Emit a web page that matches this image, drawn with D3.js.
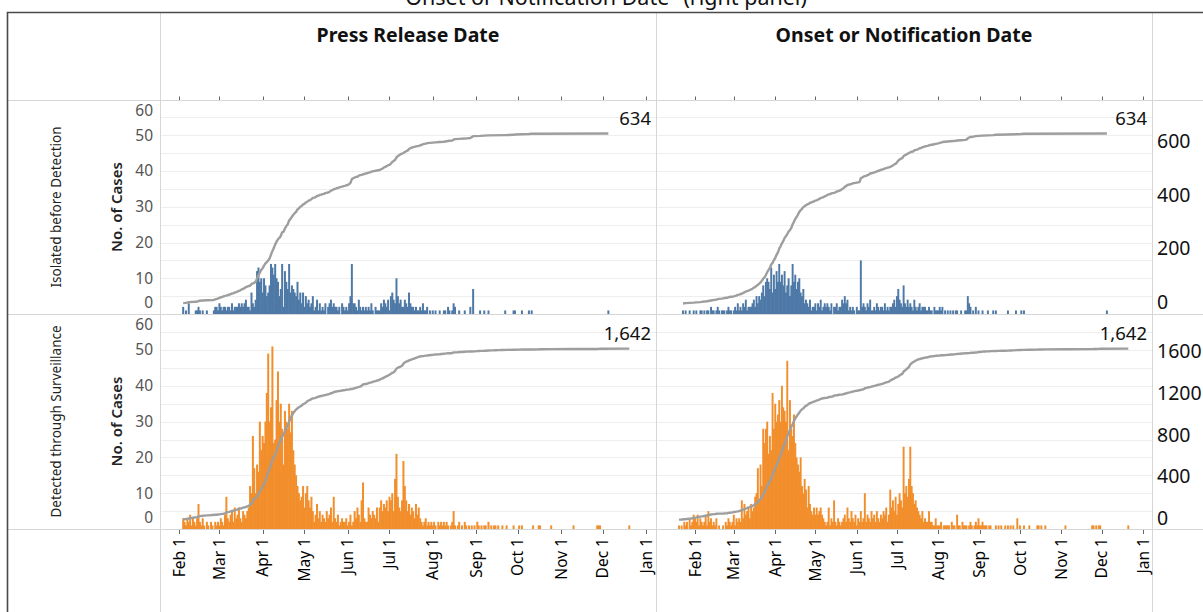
<!DOCTYPE html>
<html><head><meta charset="utf-8">
<script src="https://cdn.jsdelivr.net/npm/d3@7"></script>
<style>body{margin:0;background:#fff;} svg{display:block;}</style>
</head><body>
<svg id="c" width="1203" height="612"></svg>
<script>
// ---------------- DATA ----------------
const titleText = "Onset or Notification Date\" (right panel)";
const colTitles = ["Press Release Date", "Onset or Notification Date"];
const rowTitles = ["Isolated before Detection", "Detected through Surveillance"];
const yAxisTitle = "No. of Cases";
const monthLabels = ["Feb 1","Mar 1","Apr 1","May 1","Jun 1","Jul 1","Aug 1","Sep 1","Oct 1","Nov 1","Dec 1","Jan 1"];
const leftTicks = [0,10,20,30,40,50,60];
const rightTicksTop = [0,200,400,600];
const rightTicksBottom = [0,400,800,1200,1600];

const pressStart = "2020-02-01";
const onsetStart = "2020-01-18";

// daily cases, Isolated before Detection, by press release date (from Feb 1)
const isolatedPress = [
0,0,0,2,0,1,0, 3,0,0,0,0,1,1, 2,1,0,1,0,0,1, 0,0,0,0,1,2,2, 1,3,2,1,2,2,1,
2,2,1,3,1,2,2, 2,3,2,3,2,3,4, 2,2,1,6,3,2,4, 12,13,9,10,6,10,8, 5,6,8,14,13,11,14,
10,9,5,7,14,2,12, 9,7,14,6,8,7,6, 5,9,4,6,3,6,2, 5,3,4,2,3,5,1, 2,4,1,3,1,2,1,
3,0,2,3,4,2,3, 2,2,1,2,0,3,2, 1,2,1,3,5,14,3, 3,2,1,4,2,1,2, 1,2,1,2,1,3,1,
0,2,1,1,1,3,2, 4,3,2,4,1,5,6, 4,3,10,5,3,4,2, 2,4,3,2,6,3,2, 2,1,2,1,1,2,1,
3,1,1,2,0,1,0, 1,0,1,0,0,1,0, 0,1,1,0,2,1,0, 1,3,2,0,0,1,0, 0,0,1,0,0,0,2,
0,7,0,0,0,0,1, 0,0,1,0,0,1,0, 0,0,0,0,0,0,0, 0,0,0,1,0,0,0, 0,0,1,1,0,0,0,
0,1,0,0,0,0,1, 0,1,0,0,0,0,0,
0,0,0,0,0,0,0, 0,0,0,0,0,0,0, 0,0,0,0,0,0,0, 0,0,0,0,0,0,0, 0,0,0,0,0,0,0,
0,0,0,0,0,0,0, 0,0,0,0,0,0,0, 1];

// daily cases, Isolated before Detection, by onset / notification date (from Jan 18)
const isolatedOnset = [
0,0,0,0,0,1,0, 1,0,0,1,0,0,1, 0,1,0,0,1,1,0, 1,0,1,1,0,2,1, 1,0,1,2,1,0,1,
1,1,0,1,2,1,1, 0,1,2,1,3,1,2, 1,3,2,4,1,2,2, 2,3,4,2,5,3,5, 4,6,8,5,9,10,9,
7,13,6,11,7,12,9, 14,9,11,8,12,6,8, 10,5,8,14,9,11,7, 9,10,6,5,7,3,4, 3,2,4,1,2,2,3,
1,3,2,4,1,2,3, 2,3,2,1,3,0,2, 2,3,1,2,2,4,3, 5,3,4,1,2,1,2, 1,0,2,1,1,15,2,
3,2,1,3,2,4,1, 1,2,1,3,2,1,2, 2,1,3,1,2,1,2, 2,3,4,2,5,7,4, 3,2,8,3,2,4,2,
3,2,1,4,2,1,2, 3,1,2,2,2,1,1, 2,1,1,0,2,1,1, 1,2,1,2,0,1,0, 1,0,1,0,1,0,1,
1,0,0,1,0,0,1, 1,5,3,2,0,1,0, 2,0,1,0,0,1,0, 0,0,1,0,0,0,1, 0,1,0,0,0,0,0,
0,0,0,1,0,0,0, 0,0,1,0,0,0,1, 0,1,0,0,0,0,0,
0,0,0,0,0,0,0, 0,0,0,0,0,0,0, 0,0,0,0,0,0,0, 0,0,0,0,0,0,0, 0,0,0,0,0,0,0,
0,0,0,0,0,0,0, 0,0,0,0,0,0,0, 0,0,0,0,0,0,0, 1];

// daily cases, Detected through Surveillance, by press release date (from Feb 1)
const surveillancePress = [
0,0,0,3,2,1,3, 2,4,1,3,2,1,3, 7,2,1,3,1,0,2, 1,0,2,1,0,2,1, 2,1,3,2,1,4,9,
3,2,4,5,2,6,3, 4,6,3,2,5,4,3, 5,6,12,10,26,17,10, 18,16,30,22,26,24,30, 38,49,30,34,51,24,25,
36,44,30,35,28,18,33, 30,28,35,27,33,22,18, 15,12,10,8,9,12,6, 10,12,8,6,9,5,2, 4,7,3,5,2,4,3,
2,5,3,4,6,2,9, 3,2,4,1,2,3,2, 2,3,1,2,4,1,2, 5,3,6,4,2,8,13, 3,2,2,6,4,3,5,
4,3,6,2,6,8,5, 7,6,8,5,9,8,10, 5,14,21,9,6,5,8, 19,12,8,5,7,4,6, 5,3,7,4,6,3,2,
1,2,3,1,2,1,2, 1,2,1,0,2,1,2, 1,2,1,2,1,0,1, 2,5,1,0,1,2,0, 1,0,2,1,0,1,0,
1,0,1,0,2,1,0, 1,0,1,1,0,2,0, 1,0,1,1,0,1,0, 0,1,0,0,1,0,0, 0,0,1,0,0,0,1,
0,1,0,0,0,0,0, 0,0,1,0,0,0,1, 1,0,0,0,0,0,0, 0,1,0,0,0,0,0, 0,0,0,0,0,0,0,
0,0,0,1,0,0,0, 0,0,0,0,0,0,0, 0,0,0,0,0,0,1, 1,1,0,0,0,0,0, 0,0,0,0,0,0,0,
0,0,0,0,0,0,0, 0,1];

// daily cases, Detected through Surveillance, by onset / notification date (from Jan 18)
const surveillanceOnset = [
0,0,1,0,1,0,2, 1,2,0,3,1,2,4, 3,2,4,1,3,2,1, 2,4,1,5,2,3,1, 2,1,3,0,1,0,0,
1,0,2,1,3,2,1, 2,4,1,3,2,3,2, 8,3,7,4,5,6,3, 7,5,6,9,10,17,8, 18,12,28,24,28,30,21,
26,22,38,28,35,30,32, 36,30,40,34,33,30,47, 22,36,28,26,32,24,20, 18,16,20,12,10,14,11, 6,12,7,5,4,6,4,
6,4,5,6,4,3,2, 1,2,6,1,3,2,8, 2,1,3,2,1,2,3, 4,2,6,3,2,5,3, 2,4,1,3,2,5,2,
3,10,2,4,3,2,5, 3,4,2,5,3,2,4, 3,5,4,6,2,4,11, 6,8,5,9,4,7,10, 8,6,23,10,12,9,14,
23,12,10,7,8,6,5, 4,3,5,2,3,2,2, 5,2,2,1,1,3,1, 1,1,2,0,1,1,1, 1,1,0,2,1,1,0,
4,1,1,0,2,1,1, 1,0,1,2,1,0,1, 2,1,3,1,1,2,1, 1,1,0,1,1,0,0, 0,1,0,1,0,1,0,
0,1,0,1,0,1,0, 1,0,0,3,0,1,0, 0,1,0,0,0,1,0, 0,0,0,0,1,1,0, 1,0,0,1,0,0,0,
0,0,0,0,0,0,0, 0,0,0,0,1,0,0, 0,0,0,0,0,0,0, 0,0,0,0,0,0,0, 0,0,0,1,1,0,1,
0,1,1,0,0,0,0, 0,0,0,0,0,0,0, 0,0,0,0,0,0,0, 0,0,1];

// ---------------- DRAW ----------------
const svg = d3.select("#c");
const FONT = "'Noto Sans', 'DejaVu Sans', sans-serif";
const BLUE = "#4e79a7", ORANGE = "#f28e2b", LINE = "#9e9e9e";
const parse = d3.utcParse("%Y-%m-%d");

function series(start, vals) {
  const s = parse(start);
  const cum = d3.cumsum(vals);
  return vals.map((v, i) => ({date: d3.utcDay.offset(s, i), v, cum: cum[i]}));
}

const axisStart = new Date(Date.UTC(2020, 1, 1)), axisEnd = new Date(Date.UTC(2021, 0, 1));
const xScales = [
  d3.scaleUtc().domain([axisStart, axisEnd]).range([179, 646]),
  d3.scaleUtc().domain([axisStart, axisEnd]).range([695, 1143])
];
const colBounds = [[160, 656], [656, 1152]];
const rowBounds = [[100, 314], [314, 529]];
const yL = [
  d3.scaleLinear().domain([0, 60]).range([314, 99.6]),
  d3.scaleLinear().domain([0, 60]).range([529, 314.2])
];
const yR = [
  d3.scaleLinear().domain([0, 600]).range([303.7, 142.6]),
  d3.scaleLinear().domain([0, 1600]).range([519.7, 353])
];
const rightTicks = [rightTicksTop, rightTicksBottom];

const panels = [
  {row: 0, col: 0, data: series(pressStart, isolatedPress), color: BLUE},
  {row: 0, col: 1, data: series(onsetStart, isolatedOnset), color: BLUE},
  {row: 1, col: 0, data: series(pressStart, surveillancePress), color: ORANGE},
  {row: 1, col: 1, data: series(onsetStart, surveillanceOnset), color: ORANGE}
];

// top clipped title (cut by the top edge, as in the reference)
svg.append("text").attr("x", 606).attr("y", 4.5).attr("text-anchor", "middle")
  .attr("font-family", FONT).attr("font-size", 21.5).attr("fill", "#111").text(titleText);

// gridlines
[0, 1].forEach(r => {
  d3.range(5, 60, 5).forEach(v => {
    svg.append("line").attr("x1", 160).attr("x2", 1152)
      .attr("y1", Math.round(yL[r](v)) + 0.5).attr("y2", Math.round(yL[r](v)) + 0.5)
      .attr("stroke", "#eeeeee").attr("stroke-width", 1);
  });
});

// bars & lines
panels.forEach(p => {
  const x = xScales[p.col];
  const y = yL[p.row];
  const step = x(d3.utcDay.offset(axisStart, 1)) - x(axisStart);
  const bw = step + 0.6;
  const g = svg.append("g");
  g.selectAll("rect").data(p.data.filter(d => d.v > 0)).join("rect")
    .attr("x", d => x(d.date) - bw / 2)
    .attr("y", d => y(d.v))
    .attr("width", bw)
    .attr("height", d => y(0) - y(d.v))
    .attr("fill", p.color);
  const pts = p.data.filter((d, i) => d.v > 0);
  const line = d3.line().x(d => x(d.date)).y(d => yR[p.row](d.cum));
  svg.append("path").attr("d", line(pts)).attr("fill", "none")
    .attr("stroke", LINE).attr("stroke-width", 2.4).attr("stroke-linejoin", "round");
  const total = pts[pts.length - 1].cum;
  svg.append("text").attr("x", colBounds[p.col][1] - 5).attr("y", yR[p.row](total) - 8.5)
    .attr("text-anchor", "end").attr("font-family", FONT).attr("font-size", 18.5)
    .attr("fill", "#111").text(d3.format(",")(total));
});

// frame lines
const light = "#d6d6d6";
[160, 656, 1152].forEach(xv => {
  svg.append("line").attr("x1", xv + 0.5).attr("x2", xv + 0.5).attr("y1", 12).attr("y2", 612)
    .attr("stroke", light).attr("stroke-width", 1);
});
[100, 314, 529].forEach(yv => {
  svg.append("line").attr("x1", 7).attr("x2", 1203).attr("y1", yv + 0.5).attr("y2", yv + 0.5)
    .attr("stroke", light).attr("stroke-width", 1);
});
svg.append("path").attr("d", "M7.5,612V12.5H1203").attr("fill", "none")
  .attr("stroke", "#4a4a4a").attr("stroke-width", 1.6);

// month ticks (top and bottom) & bottom labels
const tickDates = d3.utcMonth.range(axisStart, d3.utcDay.offset(axisEnd, 1));
[0, 1].forEach(c => {
  const x = xScales[c];
  tickDates.forEach((dt, i) => {
    const xv = Math.round(x(dt)) + 0.5;
    svg.append("line").attr("x1", xv).attr("x2", xv).attr("y1", 96.5).attr("y2", 100)
      .attr("stroke", "#666").attr("stroke-width", 1);
    svg.append("line").attr("x1", xv).attr("x2", xv).attr("y1", 530).attr("y2", 534)
      .attr("stroke", "#666").attr("stroke-width", 1);
    svg.append("text").attr("transform", `translate(${x(dt)},538) rotate(-90)`)
      .attr("text-anchor", "end").attr("dy", "0.36em")
      .attr("font-family", FONT).attr("font-size", 15.5).attr("fill", "#000")
      .text(monthLabels[i]);
  });
});

// column headers
colTitles.forEach((t, c) => {
  svg.append("text").attr("x", (colBounds[c][0] + colBounds[c][1]) / 2).attr("y", 41.5)
    .attr("text-anchor", "middle").attr("font-family", FONT).attr("font-weight", 700)
    .attr("font-size", 19.5).attr("fill", "#111").text(t);
});

// row headers, axis titles, tick labels
[0, 1].forEach(r => {
  const [top, bot] = rowBounds[r];
  const mid = (top + bot) / 2;
  svg.append("text").attr("transform", `translate(56,${mid}) rotate(-90)`)
    .attr("text-anchor", "middle").attr("dy", "0.35em")
    .attr("font-family", FONT).attr("font-size", 13.5).attr("fill", "#222").text(rowTitles[r]);
  svg.append("text").attr("transform", `translate(117,${mid}) rotate(-90)`)
    .attr("text-anchor", "middle").attr("dy", "0.35em")
    .attr("font-family", FONT).attr("font-weight", 600).attr("font-size", 15).attr("fill", "#222").text(yAxisTitle);
  leftTicks.forEach(v => {
    let yv = yL[r](v);
    yv = Math.max(top + 10.5, Math.min(bot - 11, yv));
    svg.append("text").attr("x", 153).attr("y", yv).attr("dy", "0.35em")
      .attr("text-anchor", "end").attr("font-family", FONT).attr("font-size", 15.5)
      .attr("fill", "#555").text(v);
  });
  rightTicks[r].forEach(v => {
    svg.append("text").attr("x", 1157).attr("y", yR[r](v) - 1.5).attr("dy", "0.35em")
      .attr("font-family", FONT).attr("font-size", 19.5).attr("fill", "#111").text(v);
  });
});
</script>
</body></html>
